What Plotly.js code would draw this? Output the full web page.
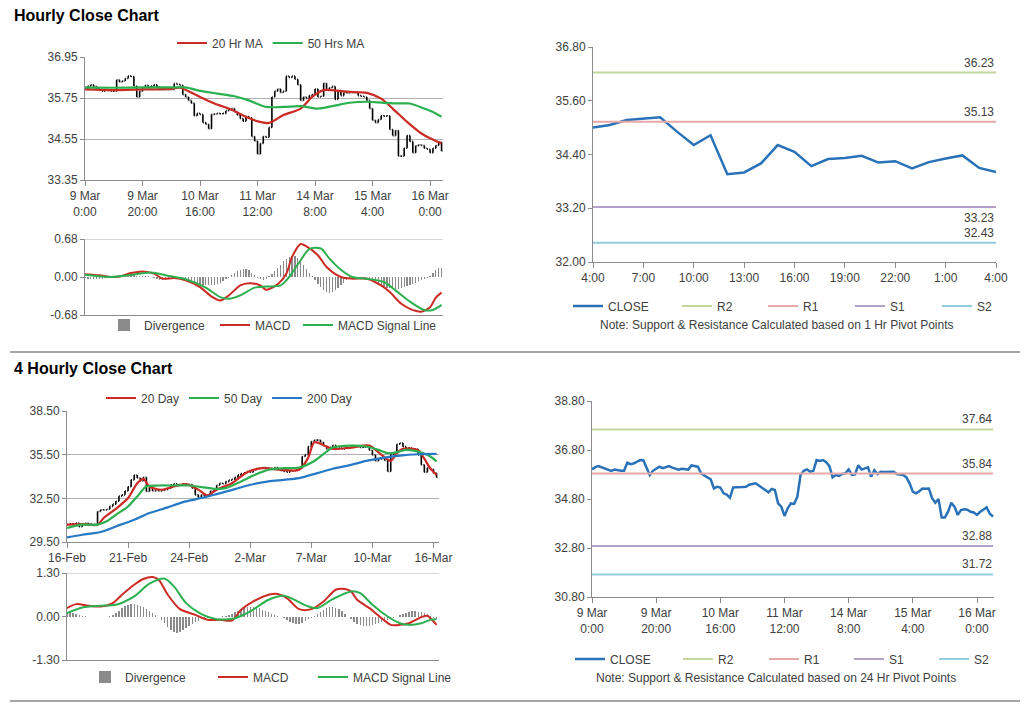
<!DOCTYPE html>
<html><head><meta charset="utf-8">
<script src="https://cdn.plot.ly/plotly-3.0.1.min.js"></script>
<style>html,body{margin:0;padding:0;background:#fff}#chart{width:1024px;height:704px}</style>
</head><body><div id="chart"></div>
<script>
// ---------- DATA ----------
// Hourly closes (9 Mar 0:00 -> 16 Mar ~5:00)
const hourlyClose = [36.01,36.10,36.14,36.09,36.02,35.98,35.95,36.00,35.97,35.95,
35.95,36.28,36.22,36.25,36.32,36.39,36.38,36.10,35.78,35.95,
36.05,36.12,36.06,36.10,36.14,36.08,36.03,36.00,36.03,36.00,
36.00,36.17,36.15,36.12,35.85,35.78,35.68,35.60,35.23,35.30,
35.27,35.03,34.98,34.85,35.27,35.28,35.30,35.29,35.30,35.38,
35.41,35.44,35.35,35.25,35.15,35.07,35.21,35.17,34.62,34.49,
34.11,34.42,34.62,34.60,34.89,35.78,35.95,36.01,35.91,35.95,
36.39,36.35,36.39,36.30,36.14,35.68,35.78,35.74,35.82,35.85,
36.01,35.78,35.80,36.18,36.00,36.05,36.09,35.71,35.97,35.82,
35.91,35.90,35.91,35.91,35.91,35.82,35.80,35.78,35.68,35.44,
35.10,35.03,35.12,35.23,35.22,35.23,34.83,34.65,34.80,34.05,
34.05,34.28,34.65,34.48,34.15,34.35,34.38,34.36,34.28,34.25,
34.15,34.28,34.36,34.46,34.20,34.08];
const hourlyTickIdx = [0,20,40,60,80,100,120];
const hourlyTickText = ['9 Mar<br>0:00','9 Mar<br>20:00','10 Mar<br>16:00','11 Mar<br>12:00','14 Mar<br>8:00','15 Mar<br>4:00','16 Mar<br>0:00'];

const ma20HrX = [0,10,20,30,33,40,45,50,56,60,64,69,75,79,83,88,92,98,103,107,112,117,120,124];
const ma20Hr  = [36.00,35.98,36.00,36.02,36.05,35.78,35.59,35.44,35.20,35.07,35.02,35.25,35.44,35.78,35.98,35.96,35.93,35.90,35.73,35.44,35.05,34.71,34.57,34.42];
const ma50HrX = [0,10,20,30,35,40,46,52,57,63,69,75,81,86,92,98,104,110,113,118,121,124];
const ma50Hr  = [36.06,36.05,36.06,36.06,36.06,35.96,35.88,35.80,35.68,35.49,35.49,35.51,35.44,35.51,35.61,35.64,35.61,35.59,35.59,35.44,35.34,35.20];

const hrMacdX = [0,5,9,12,16,20,24,27,31,35,40,44,47,50,54,57,61,63,67,70,72,75,77,81,84,89,93,98,103,106,110,113,117,120,122,124];
const hrMacd  = [0.05,0.03,0.00,0.01,0.07,0.10,0.06,-0.03,-0.02,-0.06,-0.18,-0.35,-0.42,-0.33,-0.15,-0.11,-0.15,-0.23,-0.13,0.06,0.36,0.59,0.55,0.39,0.18,0.00,-0.03,-0.03,-0.15,-0.27,-0.48,-0.57,-0.62,-0.54,-0.37,-0.28];
const hrSignalX = [0,9,15,23,28,35,42,47,50,54,59,63,68,71,75,78,82,85,89,93,98,104,108,113,118,121,124];
const hrSignal  = [0.04,0.00,0.03,0.08,0.03,-0.04,-0.19,-0.36,-0.39,-0.33,-0.19,-0.17,-0.15,0.00,0.30,0.50,0.51,0.33,0.13,0.00,-0.03,-0.09,-0.24,-0.44,-0.59,-0.59,-0.50];
const hrDivergence = [-0.02,-0.03,-0.04,-0.03,-0.03,-0.04,-0.03,-0.02,-0.02,-0.01,
0.01,0.02,0.03,0.03,0.04,0.04,0.03,0.03,0.02,0.02,0.02,0.01,0.01,0.00,-0.01,
-0.03,-0.05,-0.06,-0.05,-0.04,-0.02,-0.01,0.00,
-0.02,-0.04,-0.06,-0.08,-0.10,-0.11,-0.12,-0.13,-0.14,-0.15,-0.15,-0.15,-0.14,-0.12,-0.10,-0.07,-0.04,-0.01,
0.03,0.07,0.10,0.13,0.15,0.14,0.12,0.08,
0.03,-0.02,-0.04,-0.05,-0.03,0.01,
0.05,0.10,0.16,0.22,0.28,0.33,0.36,0.38,0.37,0.34,0.28,0.21,0.14,0.08,
0.02,-0.05,-0.12,-0.18,-0.23,-0.26,-0.28,-0.27,-0.24,-0.20,-0.15,-0.10,-0.06,-0.03,
-0.02,-0.01,-0.01,-0.02,-0.03,-0.04,-0.06,
-0.08,-0.11,-0.14,-0.16,-0.18,-0.19,-0.20,-0.21,-0.22,-0.21,-0.20,-0.18,-0.16,-0.14,-0.12,-0.10,-0.07,-0.05,-0.03,
-0.01,0.02,0.08,0.13,0.16,0.16,0.16];

// 1 Hr pivot chart
const pivotHourClose = [35.00,35.06,35.17,35.20,35.23,34.91,34.61,34.83,33.96,34.00,34.20,34.61,34.46,34.14,34.30,34.32,34.37,34.22,34.25,34.09,34.23,34.31,34.38,34.10,34.01];
const pivotHourTickIdx = [0,3,6,9,12,15,18,21,24];
const pivotHourTickText = ['4:00','7:00','10:00','13:00','16:00','19:00','22:00','1:00','4:00'];
const levelNames = ['R2','R1','S1','S2'];
const levels1Hr  = [36.23,35.13,33.23,32.43];
const levels24Hr = [37.64,35.84,32.88,31.72];

// 4-hourly closes (16 Feb -> 16 Mar)
const fourHourClose = [30.70,30.75,30.72,30.80,30.55,30.72,30.78,30.75,30.70,30.72,
31.60,31.72,31.70,31.75,31.95,32.10,32.30,32.65,32.74,33.00,
33.30,33.77,34.10,33.90,33.70,33.95,32.97,33.25,33.00,33.05,
33.00,33.05,33.10,33.20,33.43,33.50,33.45,33.40,33.50,33.45,
33.45,33.20,32.74,32.55,32.74,32.65,32.74,33.00,33.05,33.40,
33.54,33.50,33.65,33.75,33.80,33.95,34.11,34.20,34.25,34.34,
34.30,34.45,34.55,34.57,34.62,34.60,34.55,34.57,34.62,34.50,
34.40,34.35,34.30,34.38,34.40,34.46,34.57,35.37,35.50,36.06,
36.40,36.50,36.50,36.35,36.10,35.90,36.00,36.15,35.90,35.95,
35.90,35.95,36.00,36.02,36.10,36.05,36.00,36.02,36.10,35.80,
35.48,35.07,35.20,35.22,35.10,34.34,35.50,35.60,36.22,36.30,
36.05,35.95,35.95,35.90,35.88,35.48,34.80,34.30,34.60,34.50,
34.23,33.93];
const fourHourTickIdx = [0,20,40,60,80,100,120];
const fourHourTickText = ['16-Feb','21-Feb','24-Feb','2-Mar','7-Mar','10-Mar','16-Mar'];

const ma20DayX = [0,5,10,12,16,20,23,25,27,31,35,39,43,46,49,54,59,64,70,76,79,81,85,87,93,99,103,106,108,110,115,117,119,121];
const ma20Day  = [30.69,30.73,30.69,31.15,31.78,32.52,33.54,33.84,33.31,33.09,33.31,33.47,33.10,32.70,33.10,33.54,34.30,34.57,34.46,34.46,35.30,36.35,36.06,35.90,35.99,36.12,35.48,35.07,35.60,35.90,35.79,35.22,34.54,34.11];
const ma50DayX = [0,5,10,13,16,20,23,26,30,35,40,45,48,52,57,61,66,71,76,81,85,87,93,98,102,105,108,111,116,119,121];
const ma50Day  = [30.46,30.69,30.69,30.92,31.37,31.94,32.63,33.31,33.38,33.38,33.38,33.25,33.16,33.20,33.66,34.07,34.46,34.57,34.62,35.07,35.71,35.99,36.12,36.06,35.83,35.60,35.67,35.83,35.65,35.37,35.03];
const ma200DayX = [0,5,11,16,22,27,33,38,44,49,55,60,66,71,76,82,87,93,98,104,109,115,121];
const ma200Day  = [29.82,30.00,30.19,30.57,31.03,31.49,31.88,32.24,32.52,32.79,33.13,33.43,33.66,33.77,33.89,34.23,34.53,34.80,35.07,35.30,35.44,35.53,35.55];

const fhMacdX = [0,3,7,11,15,18,22,25,28,30,33,37,42,46,50,54,57,61,66,69,72,76,80,84,88,91,93,95,99,103,106,109,112,116,118,120,121];
const fhMacd  = [0.25,0.37,0.32,0.30,0.40,0.65,0.95,1.12,1.18,1.10,0.65,0.22,0.05,-0.10,-0.10,-0.12,0.20,0.45,0.65,0.67,0.55,0.22,0.22,0.45,0.80,0.82,0.75,0.50,0.25,-0.05,-0.25,-0.25,-0.20,-0.02,0.02,-0.15,-0.25];
const fhSignalX = [0,5,11,16,22,27,32,35,39,44,49,55,60,66,71,74,79,82,87,93,96,100,105,109,112,116,119,121];
const fhSignal  = [0.10,0.27,0.32,0.35,0.60,0.98,1.13,0.90,0.40,0.07,-0.08,-0.05,0.15,0.50,0.62,0.52,0.30,0.25,0.52,0.75,0.70,0.35,0.00,-0.20,-0.25,-0.20,-0.10,-0.08];
const fhDivergence = [0.12,0.12,0.10,0.08,
0.05,0.03,0.01,0.00,-0.01,-0.02,-0.02,-0.01,0.00,0.00,0.01,
0.05,0.10,0.17,0.24,0.30,0.35,0.38,0.37,0.35,0.32,0.28,0.22,0.16,0.10,0.05,
-0.02,-0.10,-0.20,-0.30,-0.40,-0.46,-0.48,-0.45,-0.40,-0.34,-0.28,-0.22,-0.17,-0.12,-0.08,-0.05,-0.03,-0.02,-0.01,
-0.01,0.00,0.01,0.02,0.04,0.08,
0.12,0.17,0.22,0.25,0.27,0.28,0.28,0.27,0.24,0.20,0.16,0.12,0.08,0.05,0.02,0.00,
-0.05,-0.10,-0.16,-0.20,-0.22,-0.21,-0.18,-0.13,-0.08,-0.03,
0.03,0.08,0.14,0.20,0.25,0.28,0.28,0.26,0.22,0.16,0.08,
0.00,-0.08,-0.15,-0.21,-0.25,-0.28,-0.28,-0.27,-0.25,-0.22,-0.19,-0.16,-0.12,-0.09,-0.06,-0.03,
0.00,0.04,0.08,0.11,0.13,0.15,0.15,0.14,0.12,0.10,0.07,0.03,
-0.03,-0.06];

// ---------- STYLE ----------
const FONT = 'Liberation Sans, Arial, Helvetica, sans-serif';
const TXT = '#404040', AX = '#8c8c8c', GRID = '#b0b0b0';
const RED = '#cc2a24', GREEN = '#2bb04f', BLUE = '#2679c4';
const CLOSE_C = '#2a72b8';
const LEVEL_C = ['#c3d69b', '#e6a9a8', '#b3a2c7', '#93cddd'];
const W = 1024, H = 704;
const dx = (a, b) => [a / W, b / W];
const dy = (t, b) => [1 - b / H, 1 - t / H];
const idx = arr => arr.map((_, i) => i);

// OHLC table built from the closes (each bar spans previous close -> close)
function ohlcTable(close) {
  const open = close.map((v, i) => i ? close[i - 1] : v);
  return { open, close,
    high: close.map((v, i) => Math.max(v, open[i])),
    low: close.map((v, i) => Math.min(v, open[i])) };
}
function priceBars(close, xa, ya) {
  const d = ohlcTable(close);
  const st = { line: { color: '#000', width: 1.6 } };
  return { type: 'ohlc', x: idx(close), open: d.open, high: d.high, low: d.low, close: d.close,
    xaxis: xa, yaxis: ya, increasing: st, decreasing: st, tickwidth: 0.3,
    showlegend: false, hoverinfo: 'skip' };
}
function line(x, y, name, color, xa, ya, leg, width, shape) {
  return { type: 'scatter', mode: 'lines', x, y, name, xaxis: xa, yaxis: ya, legend: leg,
    line: { color, width: width || 2, shape: shape || 'spline', smoothing: 0.8 }, hoverinfo: 'skip' };
}
function bars(y, xa, ya, leg) {
  return { type: 'bar', x: idx(y), y, name: 'Divergence', xaxis: xa, yaxis: ya, legend: leg,
    marker: { color: '#8a8a8a', line: { width: 0 } }, width: 0.45, hoverinfo: 'skip' };
}

const traces = [];
// Top-left: hourly bars + MAs
traces.push(priceBars(hourlyClose, 'x', 'y'));
traces.push(line(ma20HrX, ma20Hr, '20 Hr MA', RED, 'x', 'y', 'legend', 2.2));
traces.push(line(ma50HrX, ma50Hr, '50 Hrs MA', GREEN, 'x', 'y', 'legend', 2.2));
// Top-left MACD
traces.push(bars(hrDivergence, 'x2', 'y2', 'legend2'));
traces.push(line(hrMacdX, hrMacd, 'MACD', RED, 'x2', 'y2', 'legend3', 2));
traces.push(line(hrSignalX, hrSignal, 'MACD Signal Line', GREEN, 'x2', 'y2', 'legend4', 2));
// Top-right: 1 Hr pivots
const pivX = idx(pivotHourClose);
traces.push(line(pivX, pivotHourClose, 'CLOSE', CLOSE_C, 'x3', 'y3', 'legend5', 2.5, 'linear'));
levels1Hr.forEach((v, i) => traces.push(line([0, pivX.length - 1], [v, v], levelNames[i], LEVEL_C[i], 'x3', 'y3', 'legend' + (6 + i), 2, 'linear')));
// Bottom-left: 4 hourly bars + MAs
traces.push(priceBars(fourHourClose, 'x4', 'y4'));
traces.push(line(ma20DayX, ma20Day, '20 Day', RED, 'x4', 'y4', 'legend10', 2.2));
traces.push(line(ma50DayX, ma50Day, '50 Day', GREEN, 'x4', 'y4', 'legend10', 2.2));
traces.push(line(ma200DayX, ma200Day, '200 Day', BLUE, 'x4', 'y4', 'legend10', 2.2));
// Bottom-left MACD
traces.push(bars(fhDivergence, 'x5', 'y5', 'legend11'));
traces.push(line(fhMacdX, fhMacd, 'MACD', RED, 'x5', 'y5', 'legend12', 2));
traces.push(line(fhSignalX, fhSignal, 'MACD Signal Line', GREEN, 'x5', 'y5', 'legend13', 2));
// Bottom-right: 24 Hr pivots
const hX = idx(hourlyClose);
traces.push(line(hX, hourlyClose, 'CLOSE', CLOSE_C, 'x6', 'y6', 'legend14', 2.5, 'linear'));
levels24Hr.forEach((v, i) => traces.push(line([0, hX.length - 1], [v, v], levelNames[i], LEVEL_C[i], 'x6', 'y6', 'legend' + (15 + i), 2, 'linear')));

// ---------- AXES ----------
const tf = { family: FONT, size: 12, color: TXT };
function xAxis(dom, range, anchor, tv, tt) {
  const a = { domain: dom, range, anchor, showline: true, linecolor: AX, linewidth: 1, zeroline: false,
    showgrid: false, fixedrange: true, tickfont: tf, rangeslider: { visible: false } };
  if (tv) { Object.assign(a, { tickmode: 'array', tickvals: tv, ticktext: tt, ticks: 'outside', ticklen: 5, tickcolor: AX }); }
  else { Object.assign(a, { showticklabels: false, ticks: '' }); }
  return a;
}
function yAxis(dom, range, anchor, tv, grid) {
  return { domain: dom, range, anchor, showline: true, linecolor: AX, linewidth: 1, zeroline: false,
    showgrid: !!grid, gridcolor: GRID, gridwidth: 1, fixedrange: true, tickfont: tf,
    tickmode: 'array', tickvals: tv, ticktext: tv.map(v => v.toFixed(2)), ticks: 'outside', ticklen: 4, tickcolor: AX };
}

function legend(xPx, yPx) {
  return { x: xPx / W, y: 1 - yPx / H, xanchor: 'left', yanchor: 'middle', orientation: 'h',
    font: { family: FONT, size: 12, color: TXT }, bgcolor: 'rgba(0,0,0,0)', borderwidth: 0,
    itemclick: false, itemdoubleclick: false, traceorder: 'normal' };
}

function levelLabels(vals, xa, ya, xEnd, below) {
  return vals.map((v, i) => ({ xref: xa, yref: ya, x: xEnd, y: v, text: v.toFixed(2), showarrow: false,
    xanchor: 'right', yanchor: below[i] ? 'top' : 'bottom', yshift: below[i] ? -2 : 1,
    font: { family: FONT, size: 12, color: TXT } }));
}

const layout = {
  width: W, height: H, margin: { l: 0, r: 0, t: 0, b: 0 }, paper_bgcolor: '#fff', plot_bgcolor: 'rgba(0,0,0,0)',
  font: { family: FONT, size: 12, color: TXT }, bargap: 0, dragmode: false,
  xaxis:  xAxis(dx(85, 443), [0, 124.5], 'y', hourlyTickIdx, hourlyTickText),
  yaxis:  yAxis(dy(57, 180), [33.35, 36.95], 'x', [33.35, 34.55, 35.75, 36.95], true),
  xaxis2: xAxis(dx(85, 443), [0, 124.5], 'y2'),
  yaxis2: yAxis(dy(239, 315), [-0.68, 0.68], 'x2', [-0.68, 0, 0.68], false),
  xaxis3: xAxis(dx(593, 996), [0, 24], 'y3', pivotHourTickIdx, pivotHourTickText),
  yaxis3: yAxis(dy(47, 262), [32, 36.8], 'x3', [32, 33.2, 34.4, 35.6, 36.8], false),
  xaxis4: xAxis(dx(67, 439), [0, 121.8], 'y4', fourHourTickIdx, fourHourTickText),
  yaxis4: yAxis(dy(411, 542), [29.5, 38.5], 'x4', [29.5, 32.5, 35.5, 38.5], true),
  xaxis5: xAxis(dx(67, 439), [0, 121.8], 'y5'),
  yaxis5: yAxis(dy(573, 660), [-1.3, 1.3], 'x5', [-1.3, 0, 1.3], false),
  xaxis6: xAxis(dx(592, 994), [0, 125.3], 'y6', hourlyTickIdx, hourlyTickText),
  yaxis6: yAxis(dy(401, 597), [30.8, 38.8], 'x6', [30.8, 32.8, 34.8, 36.8, 38.8], false),
  // legends (one per group / entry so that each sits where the original has it)
  legend:   legend(172, 43),
  legend2:  legend(104, 325),
  legend3:  legend(215, 325),
  legend4:  legend(298, 325),
  legend5:  legend(568, 306),
  legend6:  legend(677, 306),
  legend7:  legend(763, 306),
  legend8:  legend(850, 306),
  legend9:  legend(937, 306),
  legend10: legend(101, 398),
  legend11: legend(85, 677),
  legend12: legend(213, 677),
  legend13: legend(313, 677),
  legend14: legend(570, 659),
  legend15: legend(678, 659),
  legend16: legend(764, 659),
  legend17: legend(849, 659),
  legend18: legend(934, 659),
  shapes: [
    { type: 'line', xref: 'paper', yref: 'paper', x0: 10 / W, x1: 1020 / W, y0: 1 - 352 / H, y1: 1 - 352 / H, line: { color: '#a6a6a6', width: 2 } },
    { type: 'line', xref: 'paper', yref: 'paper', x0: 10 / W, x1: 1020 / W, y0: 1 - 701 / H, y1: 1 - 701 / H, line: { color: '#a6a6a6', width: 2 } },
    { type: 'line', xref: 'x2 domain', yref: 'y2', x0: 0, x1: 1, y0: 0.68, y1: 0.68, line: { color: GRID, width: 1 } },
    { type: 'line', xref: 'x5 domain', yref: 'y5', x0: 0, x1: 1, y0: 1.3, y1: 1.3, line: { color: GRID, width: 1 } }
  ],
  annotations: [
    { xref: 'paper', yref: 'paper', x: 12 / W, y: 1 - 16 / H, xanchor: 'left', yanchor: 'middle', showarrow: false,
      text: '<b>Hourly Close Chart</b>', font: { family: FONT, size: 16, color: '#000' } },
    { xref: 'paper', yref: 'paper', x: 12 / W, y: 1 - 368 / H, xanchor: 'left', yanchor: 'middle', showarrow: false,
      text: '<b>4 Hourly Close Chart</b>', font: { family: FONT, size: 16, color: '#000' } },
    { xref: 'paper', yref: 'paper', x: 777 / W, y: 1 - 325 / H, xanchor: 'center', yanchor: 'middle', showarrow: false,
      text: 'Note: Support & Resistance Calculated based on 1 Hr Pivot Points', font: { family: FONT, size: 12, color: TXT } },
    { xref: 'paper', yref: 'paper', x: 776 / W, y: 1 - 678 / H, xanchor: 'center', yanchor: 'middle', showarrow: false,
      text: 'Note: Support & Resistance Calculated based on 24 Hr Pivot Points', font: { family: FONT, size: 12, color: TXT } }
  ].concat(levelLabels(levels1Hr, 'x3', 'y3', 24, [false, false, true, false]))
   .concat(levelLabels(levels24Hr, 'x6', 'y6', 125.3, [false, false, false, false]))
};

Plotly.newPlot('chart', traces, layout, { displayModeBar: false, staticPlot: true });
</script></body></html>
